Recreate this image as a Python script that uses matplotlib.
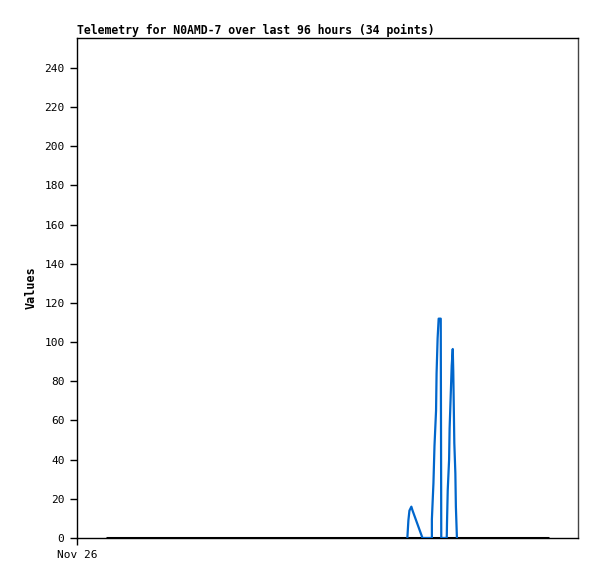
import matplotlib
matplotlib.use('Agg')
import matplotlib.pyplot as plt

# hours since start of window (window = 96 h)
blue_hours = [63.3, 63.5, 63.7, 64.07, 64.3, 66.2,
              68.0, 68.0, 68.3, 68.5, 68.8, 68.9, 69.1, 69.3, 69.7, 69.8,
              70.85, 70.9, 71.04, 71.3, 71.4, 71.6, 71.8, 72.0, 72.1, 72.3,
              72.5, 72.6, 72.8]
blue_values = [0, 9, 14, 16, 14, 0,
               0, 9.5, 28, 47, 65, 84, 102, 112, 112, 0,
               0, 8, 24.5, 40, 56, 72, 88, 96.5, 85, 48.5,
               33, 16, 0]
black_hours = [5.6, 90.4]
black_values = [0, 0]

x_ticks = [0]
x_tick_labels = ['Nov 26']
y_ticks = list(range(0, 241, 20))

mono = 'DejaVu Sans Mono'

fig = plt.figure(figsize=(5.97, 5.79), dpi=100)
ax = fig.add_axes([77 / 597, 1 - 538 / 579, 501 / 597, 500 / 579])

ax.plot(black_hours, black_values, color='black', linewidth=2.2, solid_capstyle='butt', zorder=2)
ax.plot(blue_hours, blue_values, color='#0066cc', linewidth=1.6, zorder=3)

ax.set_xlim(0, 96)
ax.set_ylim(0, 255.3)
ax.set_xticks(x_ticks)
ax.set_xticklabels(x_tick_labels, family=mono, fontsize=8)
ax.set_yticks(y_ticks)
ax.set_yticklabels([str(v) for v in y_ticks], family=mono, fontsize=8)
ax.tick_params(length=5, width=1, direction='out', pad=4)

for spine in ax.spines.values():
    spine.set_linewidth(1)
ax.spines['right'].set_color('#444444')

ax.set_title('Telemetry for N0AMD-7 over last 96 hours (34 points)',
             family=mono, fontweight='bold', fontsize=8.3, loc='left', pad=3)
ax.set_ylabel('Values', family=mono, fontweight='bold', fontsize=8.5, labelpad=5)

fig.savefig('out.png', dpi=100)
